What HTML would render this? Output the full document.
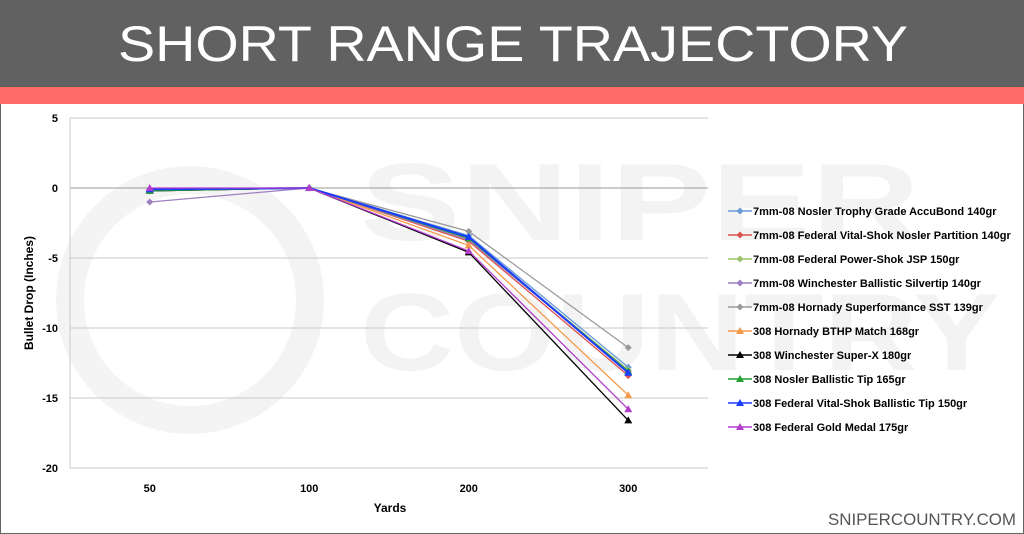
<!DOCTYPE html>
<html><head><meta charset="utf-8"><style>
html,body{margin:0;padding:0;background:#fff}
svg{display:block;font-family:"Liberation Sans",sans-serif}
</style></head><body>
<svg id="c" width="1024" height="534" viewBox="0 0 1024 534">
<rect x="0" y="0" width="1024" height="534" fill="#fff" stroke="#666" stroke-width="2"/>
<rect x="0" y="0" width="1024" height="87" fill="#616161"/>
<rect x="0" y="87" width="1024" height="17" fill="#ff6b66"/>
<text x="513" y="61" text-anchor="middle" font-size="50" fill="#fff" textLength="790" lengthAdjust="spacingAndGlyphs">SHORT RANGE TRAJECTORY</text>
<g opacity="0.045">
<circle cx="190" cy="300" r="120" fill="none" stroke="#000" stroke-width="28"/>
<text x="360" y="240" font-size="110" font-weight="bold" fill="#000" textLength="560" lengthAdjust="spacingAndGlyphs">SNIPER</text>
<text x="360" y="370" font-size="110" font-weight="bold" fill="#000" textLength="640" lengthAdjust="spacingAndGlyphs">COUNTRY</text>
</g>
<g id="grid"></g>
<g id="series"></g>
<g id="legend"></g>
<text x="33" y="293" font-size="12" font-weight="bold" text-anchor="middle" transform="rotate(-90 33 293)">Bullet Drop (Inches)</text>
<text x="390" y="512" font-size="12" font-weight="bold" text-anchor="middle">Yards</text>
<text x="1016" y="525" font-size="17" fill="#555" text-anchor="end" textLength="188" lengthAdjust="spacingAndGlyphs">SNIPERCOUNTRY.COM</text>
</svg>
<script>
const categories=["50","100","200","300"];
const yTicks=[5,0,-5,-10,-15,-20];
const names=["7mm-08 Nosler Trophy Grade AccuBond 140gr","7mm-08 Federal Vital-Shok Nosler Partition 140gr","7mm-08 Federal Power-Shok JSP 150gr","7mm-08 Winchester Ballistic Silvertip 140gr","7mm-08 Hornady Superformance SST 139gr","308 Hornady BTHP Match 168gr","308 Winchester Super-X 180gr","308 Nosler Ballistic Tip 165gr","308 Federal Vital-Shok Ballistic Tip 150gr","308 Federal Gold Medal 175gr"];
const colors=["#6a9bd8","#d9534f","#9bc26a","#9b7fc0","#999999","#f59a4a","#000000","#22a033","#1a3cff","#b23ccc"];
const markers=["d","d","d","d","d","t","t","t","t","t"];
const s1=[-0.1,0,-3.4,-12.8];
const s2=[-0.2,0,-3.8,-13.4];
const s3=[-0.1,0,-3.6,-13.0];
const s4=[-1.0,0,-3.7,-13.1];
const s5=[-0.1,0,-3.1,-11.4];
const s6=[-0.1,0,-4.1,-14.8];
const s7=[-0.2,0,-4.6,-16.6];
const s8=[-0.2,0,-3.6,-13.1];
const s9=[-0.1,0,-3.5,-13.2];
const s10=[0.0,0,-4.5,-15.8];
const series=[s1,s2,s3,s4,s5,s6,s7,s8,s9,s10];
const NS="http://www.w3.org/2000/svg";
const L=70,R=708,T=118,B=468,yMax=5,yMin=-20;
const xPos=i=>L+(R-L)/categories.length*(i+0.5);
const yPos=v=>T+(yMax-v)/(yMax-yMin)*(B-T);
function mk(t,a,p){const e=document.createElementNS(NS,t);for(const k in a)e.setAttribute(k,a[k]);p.appendChild(e);return e;}
const grid=document.getElementById('grid');
yTicks.forEach(v=>{
 const l=mk('line',{x1:L,x2:R,y1:yPos(v),y2:yPos(v),stroke:v===0?'#999':'#c8c8c8','stroke-width':1},grid);
 
 
 const t=mk('text',{x:L-12,y:yPos(v)+4,'font-size':11,'font-weight':'bold','text-anchor':'end'},grid);
 t.textContent=v;
 
 
});
const ax=mk('line',{x1:L,x2:L,y1:T,y2:B,stroke:'#c8c8c8'},grid);


categories.forEach((c,i)=>{
 const t=mk('text',{x:xPos(i),y:B+24,'font-size':11,'font-weight':'bold','text-anchor':'middle'},grid);
 t.textContent=c;
 
 
});
function marker(g,type,x,y,col){
 let e;
 if(type==='d') e=mk('polygon',{points:`${x},${y-3.5} ${x+3.5},${y} ${x},${y+3.5} ${x-3.5},${y}`,fill:col},g);
 else e=mk('polygon',{points:`${x},${y-4} ${x+4},${y+3} ${x-4},${y+3}`,fill:col},g);
 
 
}
const sg=document.getElementById('series');
series.forEach((d,k)=>{
 const g=mk('g',{},sg);
 
 
 const pl=mk('polyline',{points:d.map((v,i)=>xPos(i)+','+yPos(v)).join(' '),fill:'none',stroke:colors[k],'stroke-width':(k===8?2:1.3)},g);
 
 
 d.forEach((v,i)=>marker(g,markers[k],xPos(i),yPos(v),colors[k]));
});
const lg=document.getElementById('legend');
names.forEach((n,k)=>{
 const y=211+k*24;
 const g=mk('g',{},lg);
 
 
 mk('line',{x1:728,x2:752,y1:y,y2:y,stroke:colors[k],'stroke-width':1.5},g);
 marker(g,markers[k],740,y,colors[k]);
 const t=mk('text',{x:753,y:y+4,'font-size':11,'font-weight':'bold'},g);
 t.textContent=n;
});
</script>
</body></html>
